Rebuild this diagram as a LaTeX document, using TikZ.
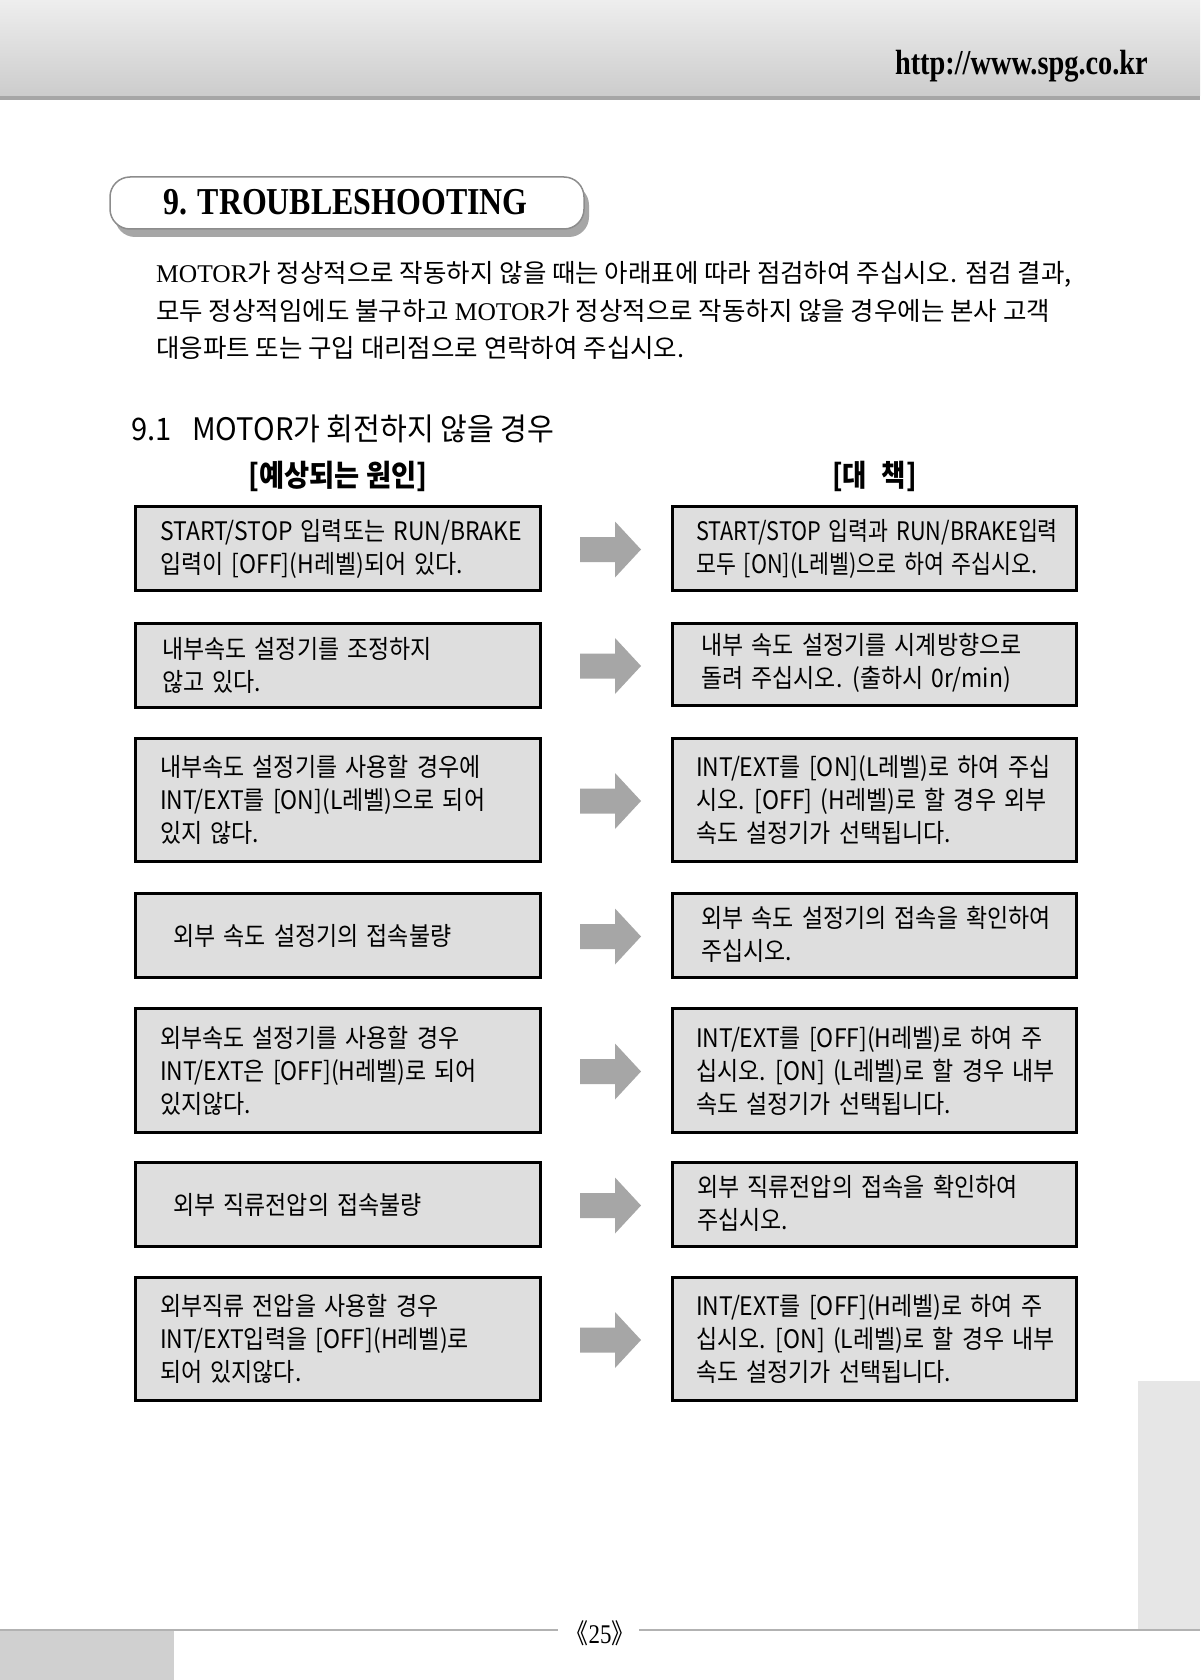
\documentclass[tikz,border=0pt]{standalone}
\usepackage{fontspec}
\usepackage{graphicx}
\setmainfont{Liberation Serif}
\newfontfamily\cjk{Noto Sans CJK KR}
\newfontfamily\cjkbox[FakeStretch=0.9,WordSpace=1.6]{Noto Sans CJK KR}
\newfontfamily\cjkboxnarrow[FakeStretch=0.85,WordSpace=1.6]{Noto Sans CJK KR}
\usetikzlibrary{calc,shadows}
\definecolor{boxfill}{RGB}{222,222,222}
\definecolor{arrowgray}{RGB}{166,166,166}
\definecolor{bandtop}{RGB}{238,238,238}
\definecolor{bandbot}{RGB}{204,204,204}
\definecolor{bandline}{RGB}{166,166,166}
\definecolor{shadowgray}{RGB}{166,166,166}
\definecolor{titleborder}{RGB}{140,140,140}
\definecolor{sidegray}{RGB}{230,230,230}
\definecolor{footgray}{RGB}{208,208,208}
\definecolor{footline}{RGB}{178,178,178}
\tikzset{
  causebox/.style={draw=black, line width=3pt, fill=boxfill, minimum width=405pt, inner sep=0pt},
  curebox/.style={causebox, minimum width=404pt},
  boxtext/.style={anchor=west, align=left, inner sep=0pt, font=\cjkbox\fontsize{25.5}{33}\selectfont},
  narrowtext/.style={boxtext, font=\cjkboxnarrow\fontsize{25.5}{33}\selectfont},
  blockarrow/.style={fill=arrowgray},
  titlebox/.style={draw=titleborder, line width=1.5pt, fill=white, rounded corners=20pt,
    minimum width=474pt, minimum height=52pt,
    drop shadow={shadow xshift=5pt, shadow yshift=-8pt, fill=shadowgray, opacity=1}},
  paratext/.style={anchor=west, inner sep=0pt, font=\cjk\fontsize{25.5}{25.5}\selectfont},
}
\newcommand{\rowarrow}[3]{%
  \coordinate (#1) at ($(#2.east)!0.5!(#3.west)$);
  \fill[blockarrow] ($(#1)+(4,1)$) ++(-30.5,-12.5) -- ++(35,0) -- ++(0,-15.5) -- ++(26,28)
     -- ++(-26,28) -- ++(0,-15.5) -- ++(-35,0) -- cycle;}
\begin{document}
\begin{tikzpicture}[x=1pt,y=-1pt]
\useasboundingbox (0,0) rectangle (1200,1680);
\fill[white] (0,0) rectangle (1200,1680);
% header band
\shade[top color=bandtop, bottom color=bandbot] (0,0) rectangle (1200,96);
\fill[bandline] (0,96) rectangle (1200,100);
\node[anchor=base east, inner sep=0pt] (url) at (1148,75)
  {\scalebox{0.81}[1]{\fontsize{35}{35}\selectfont\bfseries http://www.spg.co.kr}};
% title
\node[titlebox] (title) at (347,203) {};
\node[anchor=base west, inner sep=0pt] (titletext) at (163,215)
  {\scalebox{0.84}[1]{\fontsize{38}{38}\selectfont\bfseries 9. TROUBLESHOOTING}};
% paragraph
\node[paratext] (p1) at (156,274) {{\rmfamily MOTOR}가 정상적으로 작동하지 않을 때는 아래표에 따라 점검하여 주십시오. 점검 결과,};
\node[paratext] (p2) at (156,311) {모두 정상적임에도 불구하고 {\rmfamily MOTOR}가 정상적으로 작동하지 않을 경우에는 본사 고객};
\node[paratext] (p3) at (156,348) {대응파트 또는 구입 대리점으로 연락하여 주십시오.};
% section heading
\node[anchor=west, inner sep=0pt, font=\cjk\fontsize{31}{31}\selectfont] (sec) at (131,429)
  {\scalebox{0.94}[1]{9.1\hspace{22pt}MOTOR가 회전하지 않을 경우}};
\node[inner sep=0pt, font=\cjk\bfseries\fontsize{30}{30}\selectfont] (hcause) at (338,476)
  {\scalebox{0.91}[1]{[예상되는 원인]}};
\node[inner sep=0pt, font=\cjk\bfseries\fontsize{30}{30}\selectfont] (hcure) at (874.5,476)
  {\scalebox{0.88}[1]{[대\hspace{0.55em}책]}};
% row 1
\node[causebox, minimum height=84pt] (L1) at (338,548.5) {};
\node[boxtext] (L1t) at ($(L1.west)+(26,0)$) {START/STOP 입력또는 RUN/BRAKE\\입력이 [OFF](H레벨)되어 있다.};
\node[curebox, minimum height=84pt] (R1) at (874.5,548.5) {};
\node[narrowtext] (R1t) at ($(R1.west)+(25,0)$) {START/STOP 입력과 RUN/BRAKE입력\\모두 [ON](L레벨)으로 하여 주십시오.};
\rowarrow{A1}{L1}{R1}
% row 2
\node[causebox, minimum height=84pt] (L2) at (338,665.5) {};
\node[boxtext] (L2t) at ($(L2.west)+(28,0)$) {내부속도 설정기를 조정하지\\않고 있다.};
\node[curebox, minimum height=82pt] (R2) at (874.5,664.5) {};
\node[boxtext] (R2t) at ($(R2.west)+(30,-2)$) {내부 속도 설정기를 시계방향으로\\돌려 주십시오. (출하시 0r/min)};
\rowarrow{A2}{L2}{R2}
% row 3
\node[causebox, minimum height=123pt] (L3) at (338,800) {};
\node[boxtext] (L3t) at ($(L3.west)+(26,0)$) {내부속도 설정기를 사용할 경우에\\INT/EXT를 [ON](L레벨)으로 되어\\있지 않다.};
\node[curebox, minimum height=123pt] (R3) at (874.5,800) {};
\node[boxtext] (R3t) at ($(R3.west)+(25,0)$) {INT/EXT를 [ON](L레벨)로 하여 주십\\시오. [OFF] (H레벨)로 할 경우 외부\\속도 설정기가 선택됩니다.};
\rowarrow{A3}{L3}{R3}
% row 4
\node[causebox, minimum height=84pt] (L4) at (338,935.5) {};
\node[boxtext] (L4t) at ($(L4.west)+(39,0)$) {외부 속도 설정기의 접속불량};
\node[curebox, minimum height=84pt] (R4) at (874.5,935.5) {};
\node[boxtext] (R4t) at ($(R4.west)+(30,-1)$) {외부 속도 설정기의 접속을 확인하여\\주십시오.};
\rowarrow{A4}{L4}{R4}
% row 5
\node[causebox, minimum height=124pt] (L5) at (338,1070.5) {};
\node[boxtext] (L5t) at ($(L5.west)+(26,0)$) {외부속도 설정기를 사용할 경우\\INT/EXT은 [OFF](H레벨)로 되어\\있지않다.};
\node[curebox, minimum height=124pt] (R5) at (874.5,1070.5) {};
\node[boxtext] (R5t) at ($(R5.west)+(25,0)$) {INT/EXT를 [OFF](H레벨)로 하여 주\\십시오. [ON] (L레벨)로 할 경우 내부\\속도 설정기가 선택됩니다.};
\rowarrow{A5}{L5}{R5}
% row 6
\node[causebox, minimum height=84pt] (L6) at (338,1204.5) {};
\node[boxtext] (L6t) at ($(L6.west)+(39,0)$) {외부 직류전압의 접속불량};
\node[curebox, minimum height=84pt] (R6) at (874.5,1204.5) {};
\node[boxtext] (R6t) at ($(R6.west)+(26,-1)$) {외부 직류전압의 접속을 확인하여\\주십시오.};
\rowarrow{A6}{L6}{R6}
% row 7
\node[causebox, minimum height=123pt] (L7) at (338,1339) {};
\node[boxtext] (L7t) at ($(L7.west)+(26,0)$) {외부직류 전압을 사용할 경우\\INT/EXT입력을 [OFF](H레벨)로\\되어 있지않다.};
\node[curebox, minimum height=123pt] (R7) at (874.5,1339) {};
\node[boxtext] (R7t) at ($(R7.west)+(25,0)$) {INT/EXT를 [OFF](H레벨)로 하여 주\\십시오. [ON] (L레벨)로 할 경우 내부\\속도 설정기가 선택됩니다.};
\rowarrow{A7}{L7}{R7}
% side tab and footer
\fill[sidegray] (1138,1381) rectangle (1200,1629);
\fill[footgray] (0,1631) rectangle (174,1680);
\draw[footline, line width=2pt] (0,1630) -- (558,1630);
\draw[footline, line width=2pt] (639,1630) -- (1200,1630);
\node[inner sep=0pt, font=\fontsize{27}{27}\selectfont] (page) at (600,1633)
  {\scalebox{0.85}[1]{{\cjk 《}25{\cjk 》}}};
\end{tikzpicture}
\end{document}
